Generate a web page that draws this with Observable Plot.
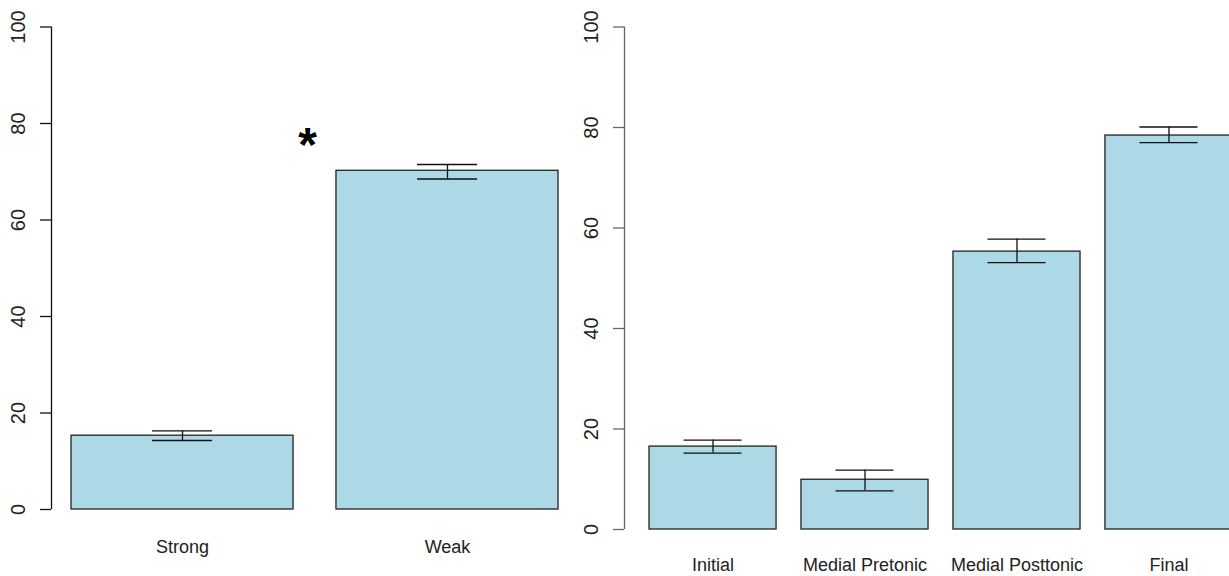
<!DOCTYPE html>
<html>
<head>
<meta charset="utf-8">
<script src="https://cdn.jsdelivr.net/npm/d3@7"></script>
<script src="https://cdn.jsdelivr.net/npm/@observablehq/plot@0.6"></script>
<style>
  html, body { margin: 0; padding: 0; background: #fff; }
  #wrap { position: relative; width: 1229px; height: 576px; overflow: hidden; background: #fff; }
  #left { position: absolute; left: 0; top: 0; }
  #right { position: absolute; left: 580px; top: 0; }
  svg { overflow: hidden; }
</style>
</head>
<body>
<div id="wrap"><div id="left"></div><div id="right"></div></div>
<script>
// ---- data ----
const leftCategories = ["Strong", "Weak"];
const leftValues = [15.3, 70.2];
const leftLow = [14.3, 68.5];
const leftHigh = [16.3, 71.5];

const rightCategories = ["Initial", "Medial Pretonic", "Medial Posttonic", "Final"];
const rightValues = [16.5, 9.9, 55.3, 78.4];
const rightLow = [15.2, 7.7, 53.1, 77.0];
const rightHigh = [17.8, 11.8, 57.8, 80.1];

const yTicks = [0, 20, 40, 60, 80, 100];
const significance = [{cat: "Weak", value: 76.9, label: "*"}];

const leftData = leftCategories.map((c, i) => ({cat: c, value: leftValues[i], lo: leftLow[i], hi: leftHigh[i]}));
const rightData = rightCategories.map((c, i) => ({cat: c, value: rightValues[i], lo: rightLow[i], hi: rightHigh[i]}));

const FONT = "'Liberation Sans', Arial, Helvetica, sans-serif";
const FILL = "#ADD8E6";

function panel({data, categories, width, marginLeft, xRange, padInner, yBottom, capInset, axisColor, labelPad, extra = []}) {
  const yExtent = [[d3.min(yTicks), d3.max(yTicks)]];
  return Plot.plot({
    width,
    height: 576,
    marginLeft,
    marginRight: 0,
    marginTop: 26,
    marginBottom: 576 - yBottom,
    style: {fontFamily: FONT, background: "white", color: "#222"},
    x: {type: "band", domain: categories, range: xRange, paddingInner: padInner, paddingOuter: 0, align: 0, round: false, axis: null},
    y: {domain: [0, 100], range: [yBottom, 26.5], axis: null},
    marks: [
      Plot.barY(data, {x: "cat", y: "value", fill: FILL, stroke: "#222", strokeWidth: 1.3}),
      Plot.ruleX(data, {x: "cat", y1: "lo", y2: "hi", stroke: "#111", strokeWidth: 1.3}),
      Plot.tickY(data, {x: "cat", y: "hi", stroke: "#111", strokeWidth: 1.3, insetLeft: capInset, insetRight: capInset}),
      Plot.tickY(data, {x: "cat", y: "lo", stroke: "#111", strokeWidth: 1.3, insetLeft: capInset, insetRight: capInset}),
      // axis line (frame-centred rule shifted to the left edge of the frame)
      Plot.ruleX(yExtent, {x: null, y1: d => d[0], y2: d => d[1], dx: (marginLeft - width) / 2, stroke: axisColor, strokeWidth: 1.3}),
      Plot.axisY(yTicks, {tickSize: 11, tickFormat: () => "", label: null, stroke: axisColor, strokeWidth: 1.3}),
      Plot.text(yTicks, {y: d => d, text: d => String(d), frameAnchor: "left", dx: -33, rotate: -90,
        textAnchor: "middle", lineAnchor: "middle", fontSize: 20, fill: "#222"}),
      Plot.axisX({tickSize: 0, tickPadding: labelPad, fontSize: 18, label: null, fill: "#222"}),
      ...extra
    ]
  });
}

document.getElementById("left").appendChild(panel({
  data: leftData, categories: leftCategories, width: 580, marginLeft: 51,
  xRange: [71, 558], padInner: 0.162, yBottom: 509, capInset: 81, axisColor: "#111", labelPad: 31,
  extra: [Plot.text(significance, {x: "cat", y: "value", text: "label", dx: -140, dy: 7,
    fontSize: 48, fontWeight: "bold", fill: "#000", lineAnchor: "middle"})]
}));

document.getElementById("right").appendChild(panel({
  data: rightData, categories: rightCategories, width: 649, marginLeft: 44,
  xRange: [69, 652], padInner: 0.164, yBottom: 529, capInset: 34.5, axisColor: "#666", labelPad: 29
}));
</script>
</body>
</html>
